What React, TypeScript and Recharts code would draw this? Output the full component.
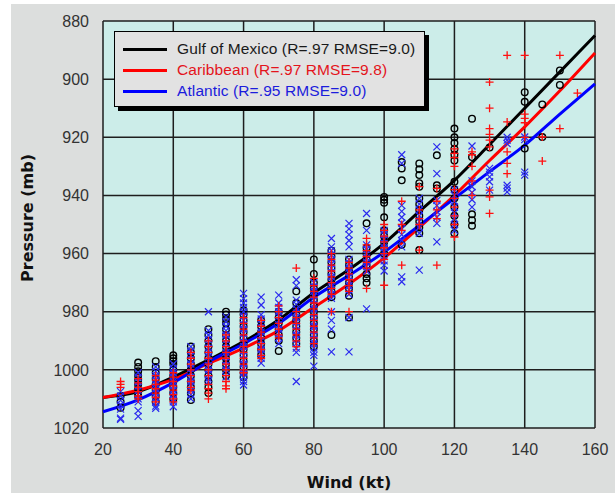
import { CartesianGrid, ComposedChart, Line, Scatter, XAxis, YAxis } from "recharts";

const xTicks = [20, 40, 60, 80, 100, 120, 140, 160];
const yTicks = [880, 900, 920, 940, 960, 980, 1000, 1020];
const minorX = [20, 25, 30, 35, 40, 45, 50, 55, 60, 65, 70, 75, 80, 85, 90, 95, 100, 105, 110, 115, 120, 125, 130, 135, 140, 145, 150, 155, 160];
const minorY = [880, 885, 890, 895, 900, 905, 910, 915, 920, 925, 930, 935, 940, 945, 950, 955, 960, 965, 970, 975, 980, 985, 990, 995, 1000, 1005, 1010, 1015, 1020];

// observations: [wind, pressures at that wind]
const gulfObs: [number, number[]][] = [
  [25, [1009, 1011, 1013]],
  [30, [997.5, 999, 1000.5, 1002, 1003.5, 1005, 1006.5, 1008, 1009]],
  [35, [997, 999, 1001, 1003, 1005, 1007, 1009, 1011]],
  [40, [995, 996, 997, 998, 1000, 1002, 1004, 1006, 1008, 1010]],
  [45, [992, 994, 996, 998, 1000, 1002, 1004, 1006, 1008, 1010.4]],
  [50, [986, 988, 990, 992, 994, 996, 998, 1000, 1002, 1004, 1006, 1008]],
  [55, [980, 981, 982.5, 984, 986, 988, 990, 992, 994, 996, 998, 1000, 1002]],
  [60, [979.5, 981, 983, 985, 987, 989, 991, 993, 995, 997, 999, 1001, 1002.5]],
  [65, [983, 985, 987, 989, 991, 993, 995]],
  [70, [980, 982, 984, 986, 988, 990, 993.5]],
  [75, [973, 977, 979, 981, 983, 985, 987, 989, 991]],
  [80, [962, 967, 970, 972, 974, 976, 978, 980, 982, 984, 986, 988, 990, 992]],
  [85, [959, 961, 963, 965, 967, 969, 971, 973, 975, 988]],
  [90, [962, 964, 966, 968, 970, 972, 974.5, 982]],
  [95, [949.6, 958, 960, 962, 964, 967, 968.5, 970]],
  [100, [940.5, 941.5, 942.5, 947.5, 952, 954, 956, 958, 960]],
  [105, [928.5, 930.7, 934.8, 957]],
  [110, [929, 931, 933, 935.8, 937, 941, 943, 945, 947, 949, 951, 953, 958.8]],
  [115, [926.2, 936.5, 937.6]],
  [120, [917, 920, 922, 924, 926, 928, 935.3, 938, 941, 944, 947, 950, 953]],
  [125, [913.6, 926.8, 946.5, 948.5, 950.4]],
  [130, [923.5]],
  [140, [904.5, 907.8, 923.9]],
  [145, [908.7, 919.9]],
  [150, [897, 902]],
];

const caribObs: [number, number[]][] = [
  [25, [1004, 1005, 1006]],
  [30, [1003, 1004.5, 1006, 1007.5, 1009, 1010]],
  [35, [1002, 1003.5, 1005, 1006.5, 1008, 1009.5, 1011]],
  [40, [1001, 1002.5, 1004, 1005.5, 1007, 1008.5, 1010, 1011]],
  [45, [994, 996, 998, 1000, 1002, 1004, 1006, 1007]],
  [50, [990, 992, 994, 996, 998, 1000, 1002, 1005, 1006.5, 1008, 1010]],
  [55, [988, 990, 992, 994, 996, 998, 1000, 1002, 1004, 1005.5, 1006.5]],
  [60, [982, 984, 986, 988, 990, 992, 994, 996, 998, 1000, 1001]],
  [65, [983, 985, 987, 989, 991, 993, 995, 996]],
  [70, [978, 980, 982, 984, 986, 988, 989]],
  [75, [965, 980, 982, 984, 986, 988, 990, 992]],
  [80, [968.5, 971, 973, 975, 977, 979, 981, 983, 985, 987, 989, 991]],
  [85, [960, 962, 964, 966, 968, 970, 972, 974, 980]],
  [90, [963, 965, 967, 969, 971, 973, 980]],
  [95, [954.8, 957, 959, 961, 963, 965, 972]],
  [100, [950, 952, 954, 956, 958, 960, 962, 970.9]],
  [105, [942, 950, 952, 964]],
  [110, [937, 945, 948, 950, 958.8]],
  [115, [937.6, 942, 945, 948, 964]],
  [120, [924, 925.5, 927, 930, 938, 941, 944, 947, 950, 954.3]],
  [125, [925, 926, 930, 935, 940]],
  [130, [901, 910, 917, 919, 921, 923.3, 938.2, 940.5, 946.2]],
  [135, [891.8, 914.7, 925, 929, 932.5]],
  [140, [891.8, 912, 913.5, 915, 920]],
  [145, [919.9, 928.2]],
  [150, [891.8, 917]],
  [155, [904.8]],
];

const atlObs: [number, number[]][] = [
  [25, [1007.5, 1009, 1010.5, 1012, 1013.5, 1016.6, 1017]],
  [30, [1001, 1002.5, 1004, 1005.5, 1007, 1008.5, 1010, 1011, 1014, 1016]],
  [35, [999, 1000.5, 1002, 1003.5, 1005, 1006.5, 1008, 1009.5, 1011, 1012.5, 1013.2]],
  [40, [998, 999.5, 1001, 1002.5, 1004, 1005.5, 1007, 1008.5, 1010, 1011, 1012.7]],
  [45, [992, 993.5, 995, 996.5, 998, 999.5, 1001, 1002.5, 1004, 1005.5, 1007, 1008.5, 1010]],
  [50, [980, 986.5, 988, 989.5, 991, 992.5, 994, 995.5, 997, 998.5, 1000, 1001.5, 1003, 1004]],
  [55, [981.8, 983.5, 985, 986.5, 988, 989.5, 991, 992.5, 994, 995.5, 997, 998.5, 1000, 1002.4]],
  [60, [973.7, 975.5, 977, 978.5, 980, 981.5, 983, 984.5, 986, 987.5, 989, 990.5, 992, 993.5, 995, 996.5, 998, 999.5, 1001, 1002.5, 1004, 1005.2]],
  [65, [975, 977.7, 981, 982.5, 984, 985.5, 987, 988.5, 990, 991.5, 993, 994.5, 996, 997.7]],
  [70, [974.3, 977, 978.5, 980, 981.5, 983, 984.5, 986, 987.5, 989, 991]],
  [75, [969, 971, 976, 977.5, 979, 980.5, 982, 983.5, 985, 986.5, 988, 989.5, 991, 992.5, 994, 1004]],
  [80, [970, 971.5, 973, 974.5, 976, 977.5, 979, 980.5, 982, 983.5, 985, 986.5, 988, 989.5, 991, 992.5, 994, 995, 998.7]],
  [85, [954.8, 957.7, 959, 960.5, 962, 963.5, 965, 966.5, 968, 969.5, 971, 972.5, 974, 975.4, 980, 983, 986, 993.8]],
  [90, [949.6, 951.5, 953.5, 955.5, 957.7, 962, 963.5, 965, 966.5, 968, 969.5, 971, 972.5, 974, 982, 993.8]],
  [95, [946.2, 952, 957, 958.5, 960, 961.5, 963, 964.5, 966, 979]],
  [100, [952, 953.5, 955, 956.5, 958, 959.5, 961, 962.5, 964, 966]],
  [105, [926, 929, 943.4, 945.5, 947.5, 949.5, 951.5, 953.5, 955.5, 957.7, 968, 969.7]],
  [110, [941, 943, 945, 947, 949, 951, 953, 965.7]],
  [115, [923.3, 932.5, 941.7, 943.5, 945.5, 947.5, 949.6, 956]],
  [120, [938, 940, 942, 944, 946, 948, 950, 952]],
  [125, [923, 935, 937, 939, 941.5, 944]],
  [130, [930.7, 932, 933.6, 935.3, 938.2]],
  [135, [920, 921, 922.2, 936.5, 937.5, 938.8]],
  [140, [919.9, 920.8, 932, 933]],
];

// fitted curves
const fitWind = [20, 30, 40, 50, 60, 70, 80, 90, 100, 110, 120, 130, 140, 150, 160];
const gulfFit = [1009.5, 1007.5, 1002.5, 996.6, 990.3, 982.8, 973.5, 965.5, 956.5, 945.5, 934.8, 922.5, 910, 897.5, 885];
const caribFit = [1009.5, 1007, 1003.3, 997.8, 992.5, 986.5, 978.5, 970.5, 961.5, 951, 940, 928, 916.4, 904, 891];
const atlFit = [1014.4, 1010.3, 1004.4, 997.2, 991, 984, 975, 967.5, 959.5, 950.3, 941, 931.8, 922.7, 912, 901.6];

const legendItems = [
  { label: "Gulf of Mexico (R=.97 RMSE=9.0)", color: "#000000", text: "#1a1a1a" },
  { label: "Caribbean (R=.97 RMSE=9.8)", color: "#ff0000", text: "#e4141c" },
  { label: "Atlantic (R=.95 RMSE=9.0)", color: "#0000ff", text: "#1c1cdc" },
];

const flatten = (obs: [number, number[]][]) => obs.flatMap(([x, ps]) => ps.map((y) => ({ x, y })));
const fitRows = (ys: number[]) => fitWind.map((x, i) => ({ x, y: ys[i] }));

const Circle = (p: any) => <circle cx={p.cx} cy={p.cy} r={3.3} fill="none" stroke="#000" strokeWidth={1.4} />;
const Plus = (p: any) => (
  <path d={`M${p.cx - 4},${p.cy}H${p.cx + 4}M${p.cx},${p.cy - 4}V${p.cy + 4}`} stroke="#ff1010" strokeWidth={1.3} />
);
const Cross = (p: any) => (
  <path d={`M${p.cx - 3.5},${p.cy - 3.5}L${p.cx + 3.5},${p.cy + 3.5}M${p.cx - 3.5},${p.cy + 3.5}L${p.cx + 3.5},${p.cy - 3.5}`} stroke="#2a2aee" strokeWidth={1.2} />
);

const tickStyle = { fontSize: 16, fill: "#333", fontFamily: "'Liberation Sans', Arial, sans-serif" };
const titleStyle = { position: "absolute" as const, whiteSpace: "nowrap" as const, fontFamily: "'DejaVu Sans', Verdana, sans-serif", fontWeight: "bold", fontSize: 16, color: "#111" };

export default function App() {
  return (
    <div style={{ position: "absolute", left: 0, top: 0, width: 615, height: 493, background: "#fff" }}>
      <div style={{ position: "absolute", left: 11, top: 4, right: 0, bottom: 0, background: "#dcdedd" }} />
      <div style={{ position: "absolute", left: 0, top: 0 }}>
        <ComposedChart width={615} height={493} margin={{ top: 21, right: 20, bottom: 35, left: 43 }}>
          <CartesianGrid fill="#ccede9" fillOpacity={1} stroke="#1e1e1e" strokeWidth={1.5} />
          <XAxis dataKey="x" type="number" domain={[20, 160]} ticks={xTicks} height={30} axisLine={false} tickLine={false} tickSize={0} tickMargin={16} tick={tickStyle} />
          <YAxis dataKey="y" type="number" domain={[880, 1020]} reversed ticks={yTicks} width={60} axisLine={false} tickLine={false} tickSize={0} tickMargin={14} tick={tickStyle} />
          <XAxis xAxisId="mb" orientation="bottom" mirror type="number" domain={[20, 160]} ticks={minorX} axisLine={false} tick={false} tickSize={5} tickLine={{ stroke: "#1e1e1e", strokeWidth: 1.3 }} />
          <XAxis xAxisId="mt" orientation="top" mirror type="number" domain={[20, 160]} ticks={minorX} axisLine={false} tick={false} tickSize={5} tickLine={{ stroke: "#1e1e1e", strokeWidth: 1.3 }} />
          <YAxis yAxisId="ml" orientation="left" mirror type="number" domain={[880, 1020]} reversed ticks={minorY} axisLine={false} tick={false} tickSize={5} tickLine={{ stroke: "#1e1e1e", strokeWidth: 1.3 }} />
          <YAxis yAxisId="mr" orientation="right" mirror type="number" domain={[880, 1020]} reversed ticks={minorY} axisLine={false} tick={false} tickSize={5} tickLine={{ stroke: "#1e1e1e", strokeWidth: 1.3 }} />
          <Scatter data={flatten(gulfObs)} shape={Circle} isAnimationActive={false} />
          <Scatter data={flatten(atlObs)} shape={Cross} isAnimationActive={false} />
          <Scatter data={flatten(caribObs)} shape={Plus} isAnimationActive={false} />
          <Line data={fitRows(gulfFit)} dataKey="y" type="monotone" stroke="#000" strokeWidth={3} dot={false} isAnimationActive={false} />
          <Line data={fitRows(caribFit)} dataKey="y" type="monotone" stroke="#ff0000" strokeWidth={3} dot={false} isAnimationActive={false} />
          <Line data={fitRows(atlFit)} dataKey="y" type="monotone" stroke="#0000ff" strokeWidth={3} dot={false} isAnimationActive={false} />
        </ComposedChart>
      </div>
      <div style={{ position: "absolute", left: 114, top: 31, width: 311, height: 76, boxSizing: "border-box", background: "#e2e2e2", border: "1px solid #000", boxShadow: "4px 4px 0 #000", fontFamily: "'Liberation Sans', Arial, sans-serif", fontSize: 15.5 }}>
        {legendItems.map((it, i) => (
          <div key={i} style={{ position: "absolute", left: 8, top: 7 + i * 21, height: 20, display: "flex", alignItems: "center", whiteSpace: "nowrap" }}>
            <div style={{ width: 44, height: 3, background: it.color, marginRight: 10 }} />
            <span style={{ color: it.text, letterSpacing: 0.1 }}>{it.label}</span>
          </div>
        ))}
      </div>
      <div style={{ ...titleStyle, left: 27, top: 218, transform: "translate(-50%, -50%) rotate(-90deg)" }}>Pressure (mb)</div>
      <div style={{ ...titleStyle, left: 349, top: 482, transform: "translate(-50%, -50%)" }}>Wind (kt)</div>
    </div>
  );
}
